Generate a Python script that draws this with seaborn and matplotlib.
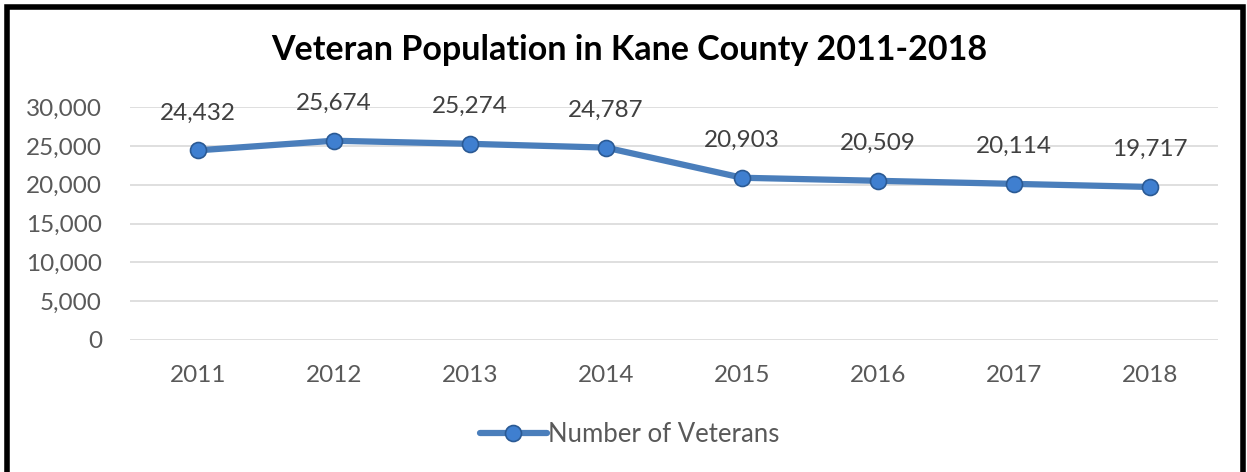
import numpy as np
import pandas as pd
import seaborn as sns
import matplotlib.pyplot as plt
from matplotlib.patches import Rectangle

years = ['2011', '2012', '2013', '2014', '2015', '2016', '2017', '2018']
veterans = [24432, 25674, 25274, 24787, 20903, 20509, 20114, 19717]
y_ticks = [0, 5000, 10000, 15000, 20000, 25000, 30000]

sns.set_theme(style='white')
plt.rcParams['font.family'] = ['Lato', 'DejaVu Sans']

df = pd.DataFrame({'year': years, 'veterans': veterans})
df['pos'] = np.arange(len(years))

fig = plt.figure(figsize=(12.47, 4.72), dpi=100)
ax = fig.add_axes([0.104, 0.2797, 0.873, 0.4933])

line_color = '#4A7EBB'
sns.lineplot(data=df, x='pos', y='veterans', ax=ax, color=line_color, lw=4.5,
             marker='o', markersize=11.5, markerfacecolor='#3F7FD0',
             markeredgecolor='#2B5A94', markeredgewidth=1.2,
             label='Number of Veterans', zorder=3)

for x, v in zip(df['pos'], veterans):
    ax.annotate(f'{v:,}', (x, v), xytext=(0, 27), textcoords='offset points',
                ha='center', va='center', fontsize=17.5, color='#404040')

ax.set_xlim(-0.5, len(years) - 0.5)
ax.set_ylim(0, 30000)
ax.set_xticks(df['pos'])
ax.set_xticklabels(years)
ax.set_yticks(y_ticks)
ax.set_yticklabels([f'{t:,}' for t in y_ticks])
ax.tick_params(axis='both', labelsize=17.5, colors='#595959', length=0)
ax.tick_params(axis='x', pad=18)
ax.tick_params(axis='y', pad=20)
ax.grid(axis='y', color='#D9D9D9', lw=1.2)
ax.set_xlabel('')
ax.set_ylabel('')
sns.despine(ax=ax, left=True, bottom=True)

fig.text(0.505, 0.895, 'Veteran Population in Kane County 2011-2018',
         ha='center', va='center', fontsize=24.5, fontweight='bold', color='black')

leg = ax.legend(loc='center', bbox_to_anchor=(0.505, 0.08), bbox_transform=fig.transFigure,
                frameon=False, fontsize=18.5, handlelength=2.6, handletextpad=0.05)
for t in leg.get_texts():
    t.set_color('#595959')

# outer frame (bottom edge falls outside the picture, as in the original crop)
fig.patches.append(Rectangle((0.006, -0.05), 0.991, 1.035, transform=fig.transFigure,
                             fill=False, edgecolor='black', lw=4))

fig.savefig('out.png', dpi=100)
